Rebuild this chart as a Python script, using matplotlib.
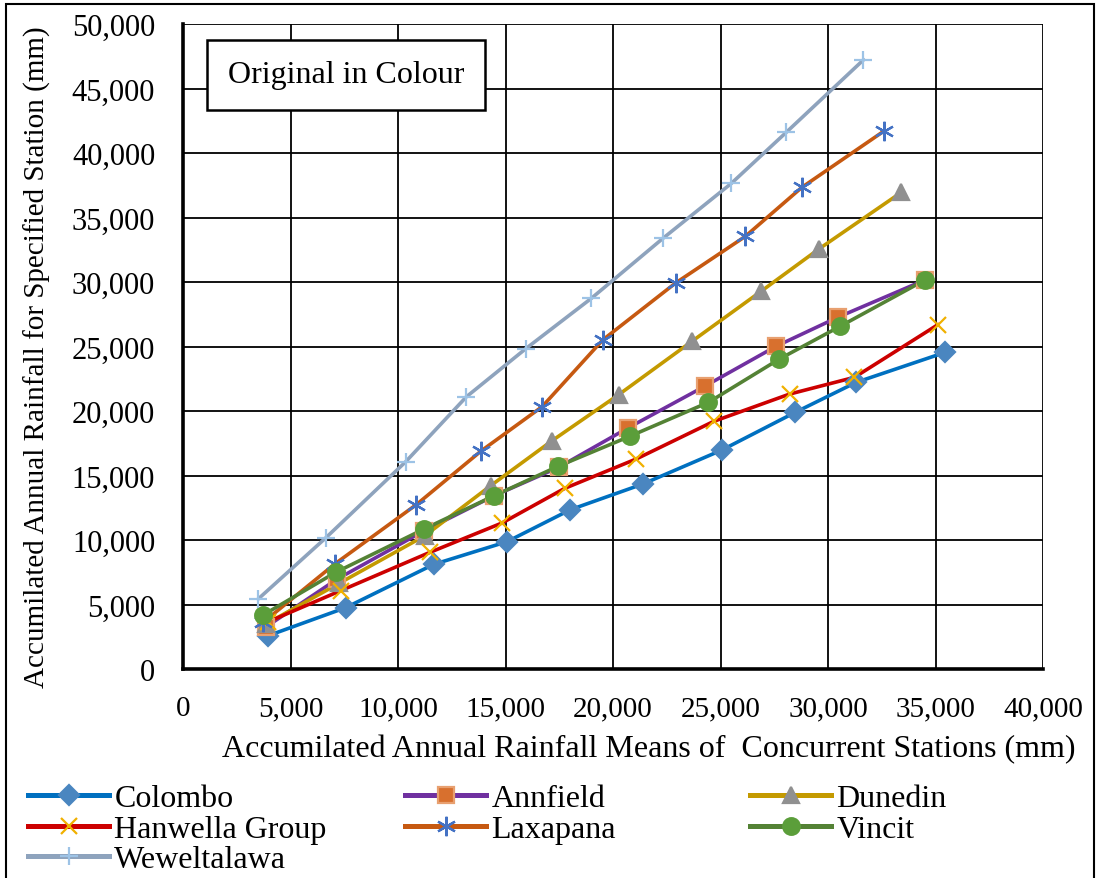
import matplotlib.pyplot as plt
from matplotlib.lines import Line2D
from matplotlib.ticker import FuncFormatter

plt.rcParams['font.family'] = ['Liberation Serif', 'DejaVu Serif']

# accumulated means of concurrent stations (x) vs accumulated rainfall at station (y), mm
colombo_x = [3960, 7560, 11660, 15070, 18020, 21390, 25060, 28470, 31310, 35440]
colombo_y = [2580, 4750, 8110, 9870, 12350, 14340, 16970, 19890, 22220, 24540]

annfield_x = [3860, 7150, 11200, 14470, 17470, 20690, 24260, 27600, 30450, 34530]
annfield_y = [3260, 6950, 10700, 13430, 15630, 18680, 21910, 25030, 27260, 30170]

dunedin_x = [3860, 7260, 11250, 14310, 17160, 20260, 23670, 26880, 29570, 33400]
dunedin_y = [3490, 6640, 10330, 14210, 17690, 21260, 25400, 29270, 32550, 36940]

hanwella_x = [3950, 7330, 11480, 14840, 17750, 21080, 24690, 28210, 31230, 35100]
hanwella_y = [3650, 6070, 9040, 11320, 14000, 16280, 19200, 21310, 22610, 26680]

laxapana_x = [3730, 7060, 10860, 13880, 16700, 19530, 22910, 26150, 28780, 32620]
laxapana_y = [3620, 8140, 12750, 16920, 20330, 25520, 29920, 33530, 37330, 41720]

vincit_x = [3730, 7100, 11210, 14470, 17440, 20770, 24440, 27740, 30560, 34530]
vincit_y = [4190, 7490, 10850, 13430, 15710, 18030, 20670, 24030, 26560, 30170]

wewel_x = [3500, 6630, 10360, 13180, 15950, 18990, 22320, 25500, 28050, 31650]
wewel_y = [5430, 10150, 16070, 21100, 24840, 28730, 33380, 37640, 41590, 47220]

fig = plt.figure(figsize=(10.99, 8.79), dpi=100)
ax = fig.add_axes([183/1099, 1-670/879, (1043-183)/1099, (670-25)/879])

lw = 2.6
# name, x, y, line colour, marker, marker face, marker edge, size
series = [
    ("Colombo", colombo_x, colombo_y, "#0070C0", "D", "#4A86C0", "#4A86C0", 10),
    ("Annfield", annfield_x, annfield_y, "#7030A0", "s", "#D8702E", "#E8A070", 11),
    ("Dunedin", dunedin_x, dunedin_y, "#C49A00", "^", "#909090", "#909090", 12),
    ("Hanwella Group", hanwella_x, hanwella_y, "#CC0000", "x", "#F0B000", "#F0B000", 11),
    ("Laxapana", laxapana_x, laxapana_y, "#C65911", (6, 2, 0), "#4472C4", "#4472C4", 14),
    ("Vincit", vincit_x, vincit_y, "#548235", "o", "#5B9E3A", "#5B9E3A", 12),
    ("Weweltalawa", wewel_x, wewel_y, "#8EA3BD", "+", "#9DC3E6", "#9DC3E6", 13),
]

handles = {}
for name, xs, ys, lc, mk, mf, me, ms in series:
    ax.plot(xs, ys, color=lc, lw=lw, zorder=3)
    ax.plot(xs, ys, ls="none", marker=mk, ms=ms, mfc=mf, mec=me, mew=1.6, zorder=4)
    handles[name] = Line2D([], [], color=lc, lw=lw + 1, marker=mk, ms=ms, mfc=mf, mec=me, mew=1.6)

ax.set_xlim(0, 40000)
ax.set_ylim(0, 50000)
ax.set_xticks(range(0, 40001, 5000))
ax.set_yticks(range(0, 50001, 5000))
fmt = FuncFormatter(lambda v, p: "0" if v == 0 else f"{int(v):,}")
ax.xaxis.set_major_formatter(fmt)
ax.yaxis.set_major_formatter(fmt)
ax.grid(True, color="black", lw=1.3, zorder=0)
ax.tick_params(length=0)
ax.tick_params(axis="x", labelsize=21, pad=19)
ax.tick_params(axis="y", labelsize=22, pad=20)
for s in ["top", "right"]:
    ax.spines[s].set_visible(False)
for s in ["left", "bottom"]:
    ax.spines[s].set_linewidth(2.6)

ax.set_xlabel("Accumilated Annual Rainfall Means of  Concurrent Stations (mm)", fontsize=23)
ax.xaxis.set_label_coords(0.541, -0.10)
ax.set_ylabel("Accumilated Annual Rainfall for Specified Station (mm)", fontsize=21)
ax.yaxis.set_label_coords(-0.153, 0.485)

ax.text(0.052, 0.921, "Original in Colour", transform=ax.transAxes, fontsize=23,
        va="center", ha="left",
        bbox=dict(boxstyle="square,pad=0.65", fc="white", ec="black", lw=1.8), zorder=6)

# legend in three columns under the plot
cols = [(["Colombo", "Hanwella Group", "Weweltalawa"], 28),
        (["Annfield", "Laxapana"], 405),
        (["Dunedin", "Vincit"], 750)]
for names, xpx in cols:
    fig.legend([handles[n] for n in names], names, loc="upper left",
               bbox_to_anchor=(xpx/1099, 1-785/879), frameon=False, fontsize=23,
               handlelength=2.55, handletextpad=0.15, labelspacing=0.03,
               borderpad=0, borderaxespad=0)

# outer chart border
fig.patches.append(plt.Rectangle((6/1099, -0.01), 1088/1099, 1-5/879+0.01,
                                 transform=fig.transFigure, fill=False, ec="black", lw=1.5))

fig.savefig("out.png", dpi=100)
